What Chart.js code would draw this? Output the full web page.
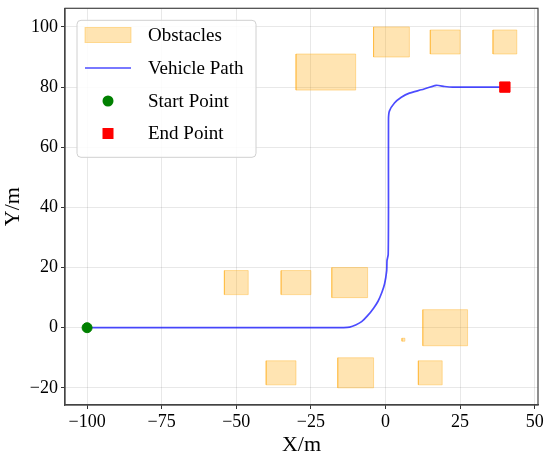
<!DOCTYPE html>
<html>
<head>
<meta charset="utf-8">
<script src="https://cdn.jsdelivr.net/npm/chart.js@4.4.1/dist/chart.umd.min.js"></script>
<style>
  html, body { margin: 0; padding: 0; background: #fff; }
  #wrap { width: 550px; height: 460px; }
</style>
</head>
<body>
<div id="wrap"><canvas id="chart" width="550" height="460"></canvas></div>
<script>
// obstacles: lower-left corner + size (m)
const obsX = [-30, -4, 15, 36, -54, -35, -18, 12.5, -40, -16, 11, 5.5];
const obsY = [79, 90, 91, 91, 11, 11, 10, -6, -19, -20, -19, -4.5];
const obsW = [20, 12, 10, 8, 8, 10, 12, 15, 10, 12, 8, 1];
const obsH = [12, 10, 8, 8, 8, 8, 10, 12, 8, 10, 8, 1];

// vehicle path
const pathX = [-100, -60, -20, -14, -12, -10, -8, -6, -4, -2.5, -1.2, -0.3, 0.4, 0.5, 0.9, 1.0, 1.0, 1.3, 3.0, 5.3, 8.0, 12.0, 17.0, 19.8, 22.5, 40];
const pathY = [0, 0, 0, 0.05, 0.2, 0.9, 2.0, 4.0, 6.5, 8.8, 11.8, 14.6, 19.0, 22.3, 24.3, 40, 69.2, 72, 74.7, 76.6, 78.0, 79.1, 80.6, 80.2, 80.0, 80];

const startPt = [-100, 0];
const endPt = [40, 80];

const xTicks = [-100, -75, -50, -25, 0, 25, 50];
const yTicks = [-20, 0, 20, 40, 60, 80, 100];

const SERIF = "'Liberation Serif', 'DejaVu Serif', serif";
const obsFill = "rgba(255, 165, 0, 0.3)";
const obsEdge = "rgba(255, 165, 0, 0.35)";
const pathColor = "rgba(0, 0, 255, 0.7)";

function fmt(v) {
    return v < 0 ? "\u2212" + Math.abs(v) : String(v);
}

const datasets = [];

obsX.forEach((x, i) => {
    const y = obsY[i], w = obsW[i], h = obsH[i];
    datasets.push({
        label: "Obstacles",
        data: [{x: x, y: y}, {x: x + w, y: y}, {x: x + w, y: y + h}, {x: x, y: y + h}, {x: x, y: y}],
        showLine: true,
        fill: "shape",
        backgroundColor: obsFill,
        borderColor: obsEdge,
        borderWidth: 1,
        pointRadius: 0,
        tension: 0,
        order: 3
    });
});

datasets.push({
    label: "Vehicle Path",
    data: pathX.map((x, i) => ({x: x, y: pathY[i]})),
    showLine: true,
    fill: false,
    borderColor: pathColor,
    borderWidth: 1.7,
    pointRadius: 0,
    tension: 0.2,
    order: 2
});

datasets.push({
    label: "Start Point",
    data: [{x: startPt[0], y: startPt[1]}],
    pointStyle: "circle",
    pointRadius: 5,
    pointBorderWidth: 1,
    backgroundColor: "green",
    borderColor: "green",
    order: 1
});

datasets.push({
    label: "End Point",
    data: [{x: endPt[0], y: endPt[1]}],
    pointStyle: "rect",
    pointRadius: 7.3,
    pointBorderWidth: 1,
    backgroundColor: "red",
    borderColor: "red",
    order: 0
});

// frame + legend drawn the matplotlib way
const framePlugin = {
    id: "frame",
    afterDatasetsDraw(chart) {
        const ctx = chart.ctx;
        const a = chart.chartArea;
        ctx.save();
        ctx.strokeStyle = "#444";
        ctx.lineWidth = 1.2;
        ctx.strokeRect(a.left, a.top, a.right - a.left, a.bottom - a.top);

        // legend box
        const bx = a.left + 12, by = a.top + 12, bw = 179, bh = 137;
        ctx.fillStyle = "rgba(255,255,255,0.85)";
        ctx.strokeStyle = "#d0d0d0";
        ctx.lineWidth = 1;
        ctx.beginPath();
        ctx.roundRect(bx, by, bw, bh, 4);
        ctx.fill();
        ctx.stroke();

        const names = ["Obstacles", "Vehicle Path", "Start Point", "End Point"];
        const rowY = [35, 68, 101, 133.5];
        const hx = 85, hw = 46, tx = 148;
        ctx.font = "19px " + SERIF;
        ctx.textBaseline = "middle";
        ctx.fillStyle = "#000";
        names.forEach((n, i) => {
            const y = rowY[i];
            if (i === 0) {
                ctx.fillStyle = obsFill;
                ctx.fillRect(hx, y - 7.5, hw, 15);
                ctx.strokeStyle = obsEdge;
                ctx.strokeRect(hx, y - 7.5, hw, 15);
            } else if (i === 1) {
                ctx.strokeStyle = pathColor;
                ctx.lineWidth = 1.7;
                ctx.beginPath();
                ctx.moveTo(hx, y);
                ctx.lineTo(hx + hw, y);
                ctx.stroke();
            } else if (i === 2) {
                ctx.fillStyle = "green";
                ctx.beginPath();
                ctx.arc(hx + hw / 2, y, 5.5, 0, Math.PI * 2);
                ctx.fill();
            } else {
                ctx.fillStyle = "red";
                ctx.fillRect(hx + hw / 2 - 5.5, y - 5.5, 11, 11);
            }
            ctx.fillStyle = "#000";
            ctx.fillText(n, tx, y + 1);
        });
        ctx.restore();
    }
};

new Chart(document.getElementById("chart"), {
    type: "scatter",
    data: { datasets: datasets },
    options: {
        responsive: false,
        animation: false,
        layout: { padding: { left: 0, right: 12, top: 7, bottom: 0 } },
        plugins: {
            legend: { display: false },
            tooltip: { enabled: false }
        },
        scales: {
            x: {
                type: "linear",
                min: -107.4,
                max: 51.1,
                afterBuildTicks: s => { s.ticks = xTicks.map(v => ({value: v})); },
                afterFit: s => { s.height = 55; s.paddingLeft = 0; s.paddingRight = 0; },
                ticks: {
                    callback: v => fmt(v),
                    font: { family: SERIF, size: 18 },
                    color: "#000",
                    padding: 2,
                    maxRotation: 0
                },
                grid: {
                    color: "rgba(0,0,0,0.09)",
                    lineWidth: 1,
                    tickColor: "#333",
                    tickLength: 4
                },
                border: { display: true, color: "#444", width: 1.2 },
                title: {
                    display: true,
                    text: "X/m",
                    font: { family: SERIF, size: 22 },
                    color: "#000",
                    padding: { top: 2, bottom: 2 }
                }
            },
            y: {
                type: "linear",
                min: -25.7,
                max: 106.2,
                afterBuildTicks: s => { s.ticks = yTicks.map(v => ({value: v})); },
                afterFit: s => { s.width = 65; s.paddingTop = 0; s.paddingBottom = 0; },
                ticks: {
                    callback: v => fmt(v),
                    font: { family: SERIF, size: 18 },
                    color: "#000",
                    padding: 3
                },
                grid: {
                    color: "rgba(0,0,0,0.09)",
                    lineWidth: 1,
                    tickColor: "#333",
                    tickLength: 4
                },
                border: { display: true, color: "#444", width: 1.2 },
                title: {
                    display: true,
                    text: "Y/m",
                    font: { family: SERIF, size: 22 },
                    color: "#000",
                    padding: { top: 0, bottom: 0 }
                }
            }
        }
    },
    plugins: [framePlugin]
});
</script>
</body>
</html>
